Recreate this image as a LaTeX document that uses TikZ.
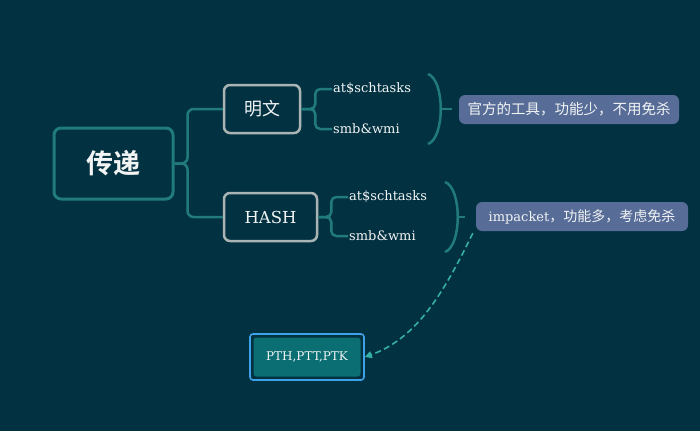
\documentclass[tikz,border=0pt]{standalone}
\usepackage{fontspec}
\setmainfont{DejaVu Serif}
\newfontfamily\cjk{Noto Sans CJK SC}
\newfontfamily\cjkb{Noto Sans CJK SC Bold}
\usetikzlibrary{arrows.meta}
\definecolor{bg}{HTML}{023141}
\definecolor{conn}{HTML}{217A7C}
\definecolor{graybd}{HTML}{AAB4B4}
\definecolor{slate}{HTML}{576D98}
\definecolor{tealfill}{HTML}{0B6E72}
\definecolor{bluebd}{HTML}{3DA2E6}
\definecolor{dashc}{HTML}{35AFA8}
\definecolor{txt}{HTML}{F2F4F4}
\tikzset{
  x=1pt, y=-1pt,
  rootbox/.style={draw=conn, line width=3pt, rounded corners=7pt, fill=bg, minimum width=119pt, minimum height=71pt, text=txt, inner sep=0pt},
  subbox/.style={draw=graybd, line width=2.5pt, rounded corners=6pt, fill=bg, minimum height=48pt, text=txt, inner sep=0pt},
  leaf/.style={text=txt, inner sep=1pt, anchor=west, font=\fontsize{13}{15}\selectfont},
  notebox/.style={fill=slate, rounded corners=6pt, minimum height=29pt, text=txt, inner sep=0pt},
  link/.style={draw=conn, line width=2.5pt, rounded corners=6pt},
  brace/.style={draw=conn, line width=2.5pt},
  pthbox/.style={draw=bluebd, line width=1.6pt, rounded corners=3pt, fill=bg, minimum width=114pt, minimum height=46pt, text=txt, inner sep=0pt,
    path picture={\fill[tealfill, rounded corners=3pt] ([shift={(3.5pt,-3.5pt)}]path picture bounding box.north west) rectangle ([shift={(-3.5pt,3.5pt)}]path picture bounding box.south east);}},
  dasharrow/.style={draw=dashc, line width=1.6pt, dash pattern=on 6pt off 3.5pt, -{Triangle[length=7pt,width=7pt]}}
}
\begin{document}
\begin{tikzpicture}
\fill[bg] (0,0) rectangle (700,431);
\useasboundingbox (0,0) rectangle (700,431);

\node[rootbox] (ch) at (113.5,163.5) {\cjkb\fontsize{27}{30}\selectfont 传递};
\node[subbox, minimum width=76pt] (mw) at (262,109) {\cjk\fontsize{18}{20}\selectfont 明文};
\node[subbox, minimum width=93pt] (hs) at (270.5,217) {\fontsize{16.5}{19}\selectfont HASH};

\draw[link] (ch.east) -- ++(13,0) |- (mw.west);
\draw[link] (ch.east) -- ++(13,0) |- (hs.west);

\node[leaf] (a1) at (332,89) {at\$schtasks};
\node[leaf] (s1) at (332,129) {smb\&wmi};
\node[leaf] (a2) at (348,197) {at\$schtasks};
\node[leaf] (s2) at (348,236) {smb\&wmi};

\draw[link, rounded corners=5pt] (mw.east) -- ++(14,0) |- (a1.west);
\draw[link, rounded corners=5pt] (mw.east) -- ++(14,0) |- (s1.west);
\draw[link, rounded corners=5pt] (hs.east) -- ++(13,0) |- (a2.west);
\draw[link, rounded corners=5pt] (hs.east) -- ++(13,0) |- (s2.west);

\node[notebox, minimum width=220pt] (n1) at (569,109.5) {\cjk\fontsize{14.5}{16}\selectfont 官方的工具，功能少，不用免杀};
\node[notebox, minimum width=212pt] (n2) at (582,216.5) {\fontsize{13}{15}\selectfont impacket{\cjk\fontsize{14}{16}\selectfont ，功能多，考虑免杀}};

\coordinate (b1t) at (428,74);
\coordinate (b1b) at (428,144);
\coordinate (b1m) at (440.8,109);
\coordinate (b1e) at (452,109);
\draw[brace] (b1t) .. controls (445,80) and (445,138) .. (b1b);
\draw[brace] (b1m) -- (b1e);

\coordinate (b2t) at (445,182);
\coordinate (b2b) at (445,252);
\coordinate (b2m) at (457.8,217);
\coordinate (b2e) at (465,217);
\draw[brace] (b2t) .. controls (462,188) and (462,246) .. (b2b);
\draw[brace] (b2m) -- (b2e);

\node[pthbox] (pth) at (307,357) {\fontsize{12}{14}\selectfont PTH,PTT,PTK};

\draw[dasharrow] ([shift={(-3pt,-2pt)}]n2.south west) .. controls (445,290) and (418,338) .. (pth.east);
\end{tikzpicture}
\end{document}
